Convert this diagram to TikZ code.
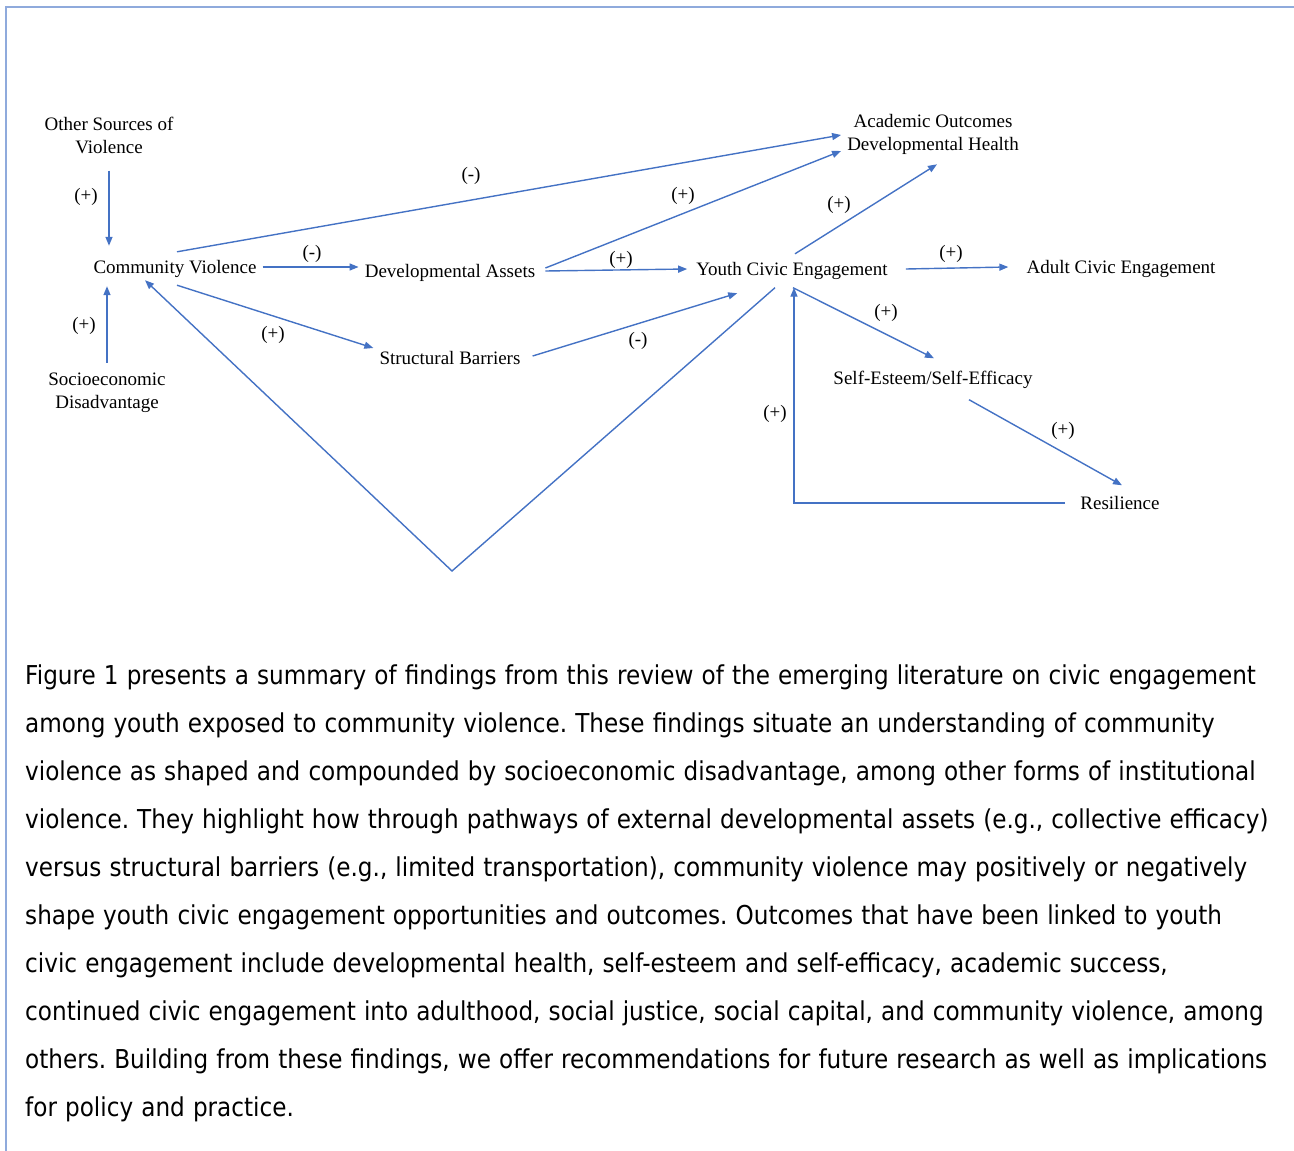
\documentclass[tikz,border=0pt]{standalone}
\usepackage{fontspec}
\setmainfont{Liberation Serif}
\newfontfamily\parafont{DejaVu Sans}[FakeStretch=0.89]
\newcommand\paraspacing{\frenchspacing\spaceskip=8.1pt plus 2pt minus 1pt\relax}
\usetikzlibrary{arrows.meta}
\definecolor{linkblue}{RGB}{68,114,196}
\definecolor{frameblue}{RGB}{143,170,220}

\begin{document}
\begin{tikzpicture}[
  x=1pt, y=-1pt,
  every node/.style={font=\fontsize{19}{23}\selectfont, inner sep=6pt},
  box/.style={text height=15pt, text depth=3pt},
  stack/.style={align=center},
  sign/.style={inner sep=0pt},
  link/.style={draw=linkblue, line width=1.4pt, -{Triangle[length=9pt, width=7pt]}},
  body/.style={font=\parafont\fontsize{26}{48}\selectfont\paraspacing,
               inner sep=0pt, anchor=base west}
]
\useasboundingbox (0,0) rectangle (1294,1151);
\draw[frameblue, line width=1.5pt] (6,1151) -- (6,7) -- (1294,7);

\node[stack] (osv) at (109,135) {Other Sources of\\Violence};
\node[box] (cv) at (175,267) {Community Violence};
\node[stack] (sed) at (107,393) {Socioeconomic\\Disadvantage};
\node[box] (da) at (450,271) {Developmental Assets};
\node[box] (sb) at (450,358) {Structural Barriers};
\node[box] (yce) at (792,269) {Youth Civic Engagement};
\node[stack] (aodh) at (933,134) {Academic Outcomes\\Developmental Health};
\node[box] (ace) at (1121,267) {Adult Civic Engagement};
\node[box] (ses) at (933,378) {Self-Esteem/Self-Efficacy};
\node[box] (res) at (1120,503) {Resilience};
\coordinate (vtip) at (452,571);

\draw[link] ([yshift=-11pt]osv.south) -- ([yshift=6pt]osv.south |- cv.north);
\draw[link] ([yshift=4pt]sed.north) -- ([yshift=-4pt]sed.north |- cv.south);
\draw[link] (cv.east) -- (da.west |- cv.east);
\draw[link] ([xshift=2pt]cv.north) -- ([yshift=-1pt]aodh.west);
\draw[link] ([xshift=4pt,yshift=3pt]da.east) -- ([yshift=-17pt]aodh.west);
\draw[link] ([xshift=4pt]da.east) -- ([xshift=-3pt]yce.west);
\draw[link] ([xshift=3pt]yce.north) -- ([xshift=4pt,yshift=-4pt]aodh.south);
\draw[link] ([xshift=12pt]yce.east) -- ([xshift=-12pt]ace.west);
\draw[link] ([xshift=2pt,yshift=-3pt]cv.south) -- ([yshift=10pt]sb.west);
\draw[link] ([xshift=6pt,yshift=2pt]sb.east) -- ([xshift=47pt,yshift=-9pt]yce.south west);
\draw[link] ([xshift=-17pt,yshift=-3.5pt]yce.south) -- (vtip) -- ([xshift=-30pt,yshift=2pt]cv.south);
\draw[link] ([xshift=1pt,yshift=-3.5pt]yce.south) -- ([xshift=1pt,yshift=4.5pt]ses.north);
\draw[link] ([xshift=36pt,yshift=-6.5pt]ses.south) -- ([xshift=2pt,yshift=2.5pt]res.north);
\draw[link] ([xshift=-9pt]res.west) -| ([xshift=2pt,yshift=-3.5pt]yce.south);

\node[sign] (s1) at (86,197) {(+)};
\node[sign] (s2) at (84,326) {(+)};
\node[sign] (s3) at (312,254) {(-)};
\node[sign] (s4) at (471,176) {(-)};
\node[sign] (s5) at (683,196) {(+)};
\node[sign] (s6) at (621,260) {(+)};
\node[sign] (s7) at (839,205) {(+)};
\node[sign] (s8) at (951,254) {(+)};
\node[sign] (s9) at (273,335) {(+)};
\node[sign] (s10) at (638,341) {(-)};
\node[sign] (s11) at (886,313) {(+)};
\node[sign] (s12) at (1063,431) {(+)};
\node[sign] (s13) at (775,414) {(+)};

\foreach \txt [count=\i] in {
  {Figure 1 presents a summary of findings from this review of the emerging literature on civic engagement},
  {among youth exposed to community violence. These findings situate an understanding of community},
  {violence as shaped and compounded by socioeconomic disadvantage, among other forms of institutional},
  {violence. They highlight how through pathways of external developmental assets (e.g., collective efficacy)},
  {versus structural barriers (e.g., limited transportation), community violence may positively or negatively},
  {shape youth civic engagement opportunities and outcomes. Outcomes that have been linked to youth},
  {civic engagement include developmental health, self-esteem and self-efficacy, academic success,},
  {continued civic engagement into adulthood, social justice, social capital, and community violence, among},
  {others. Building from these findings, we offer recommendations for future research as well as implications},
  {for policy and practice.}}
  \node[body] (line\i) at (25,636+48*\i) {\txt};

\end{tikzpicture}
\end{document}
